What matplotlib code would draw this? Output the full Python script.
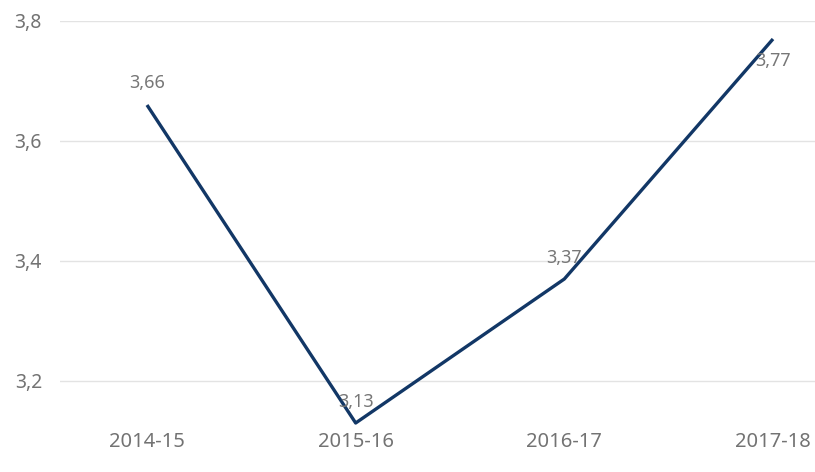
import matplotlib
matplotlib.use("Agg")
import matplotlib.pyplot as plt
from matplotlib.ticker import FuncFormatter

# data
seasons = ["2014-15", "2015-16", "2016-17", "2017-18"]
values = [3.66, 3.13, 3.37, 3.77]
label_offsets = [16, 15, 15, -16]  # points, above / below the point

plt.rcParams['font.family'] = ['Noto Sans', 'DejaVu Sans']

fig = plt.figure(figsize=(8.15, 4.72), dpi=100)
ax = fig.add_axes([60 / 815, 1 - 425 / 472, 755 / 815, 404 / 472])

x = list(range(len(seasons)))
ax.plot(x, values, color="#123766", linewidth=2.4, solid_capstyle="butt")

for xi, v, off in zip(x, values, label_offsets):
    ax.annotate(f"{v:.2f}".replace(".", ","), (xi, v), xytext=(0, off),
                textcoords="offset points", ha="center", va="center",
                fontsize=13, color="#777777")

ax.set_ylim(3.8 - 404 / 600, 3.8)
ax.set_xlim(-(87 / 208.67), 3 + 42 / 208.67)
ax.set_yticks([3.2, 3.4, 3.6, 3.8])
ax.yaxis.set_major_formatter(FuncFormatter(lambda v, p: f"{v:.1f}".replace(".", ",")))
ax.set_xticks(x)
ax.set_xticklabels(seasons)

ax.grid(axis="y", color="#e3e3e3", linewidth=1)
ax.set_axisbelow(True)
for s in ax.spines.values():
    s.set_visible(False)
ax.tick_params(axis="both", length=0, colors="#737373")
ax.tick_params(axis="y", labelsize=14, pad=13)
ax.tick_params(axis="x", labelsize=14.5, pad=5)

fig.savefig("out.png", dpi=100)
